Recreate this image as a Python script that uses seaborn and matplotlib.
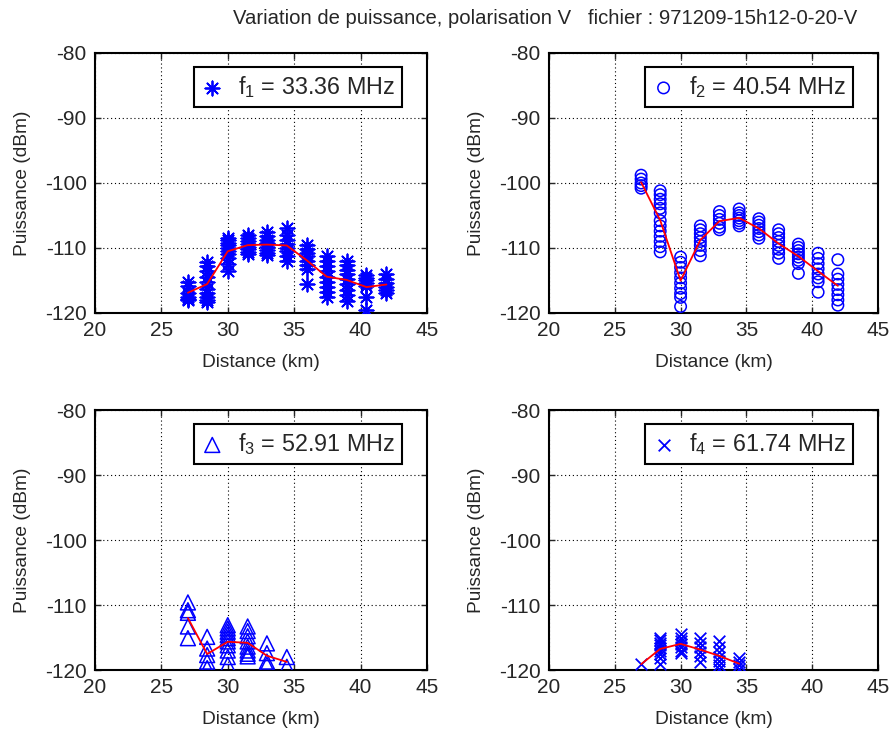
import pandas as pd
import matplotlib.pyplot as plt
import seaborn as sns

sns.set_style("white")
plt.rcParams['font.family'] = ['Liberation Sans', 'DejaVu Sans']
plt.rcParams['mathtext.fontset'] = 'custom'
plt.rcParams['mathtext.rm'] = 'Liberation Sans'
plt.rcParams['axes.unicode_minus'] = False

# distances of the measurement points (km)
dist = [27.0, 28.45, 30.0, 31.5, 32.95, 34.45, 35.95, 37.45, 38.95, 40.45, 41.95]

# received power (dBm), one list per distance
p1 = [[-115.2, -115.8, -117.0, -117.5, -117.8, -118.0],
      [-112.2, -112.8, -113.5, -114.5, -115.3, -116.3, -117.0, -117.5, -118.0, -118.3],
      [-108.4, -108.8, -109.2, -109.6, -110.0, -110.4, -111.0, -111.6, -112.5, -113.6],
      [-108.0, -108.5, -109.0, -109.4, -109.8, -110.2, -110.6, -111.0],
      [-107.5, -108.2, -108.8, -109.3, -109.8, -110.3, -110.8, -111.1],
      [-107.0, -108.0, -108.8, -109.4, -110.0, -110.5, -111.2, -112.0],
      [-109.5, -110.2, -110.8, -111.3, -112.0, -112.6, -113.3, -115.5],
      [-111.3, -112.0, -112.8, -113.6, -114.4, -115.2, -116.0, -116.8, -117.6],
      [-112.0, -112.6, -113.4, -114.0, -114.8, -115.6, -116.4, -117.2, -118.2],
      [-114.2, -114.6, -115.0, -115.4, -115.8, -117.5, -119.6],
      [-114.0, -114.8, -115.4, -116.0, -116.5, -117.0]]

p2 = [[-98.8, -99.4, -100.0, -100.4, -100.8],
      [-101.2, -101.8, -102.5, -103.2, -103.9, -104.6, -105.8, -106.6, -107.4,
       -108.2, -109.0, -109.8, -110.6],
      [-111.4, -112.2, -113.0, -113.8, -114.6, -115.4, -116.2, -117.0, -117.6, -119.0],
      [-106.6, -107.2, -107.8, -108.4, -109.0, -109.6, -110.4, -111.2],
      [-104.4, -105.0, -105.6, -106.2, -106.8, -107.2],
      [-104.0, -104.6, -105.0, -105.4, -105.8, -106.2, -106.6],
      [-105.5, -106.0, -106.5, -107.0, -107.5, -108.0, -108.5],
      [-107.2, -107.8, -108.4, -109.0, -109.6, -110.2, -110.8, -111.6],
      [-109.4, -109.9, -110.4, -110.9, -111.4, -111.9, -112.4, -113.9],
      [-110.8, -111.6, -112.4, -113.2, -114.0, -114.6, -115.2, -116.8],
      [-111.8, -114.0, -114.8, -115.6, -116.4, -117.2, -118.0, -118.8]]

p3 = [[-109.6, -110.8, -111.2, -113.3, -115.1],
      [-114.9, -116.7, -117.7, -118.7, -119.7],
      [-113.1, -113.6, -114.1, -114.6, -115.1, -115.6, -116.2, -117.0, -118.0, -119.2],
      [-113.3, -114.0, -114.8, -115.6, -116.4, -117.0, -117.5, -117.9],
      [-115.9, -117.4, -118.7, -119.2],
      [-118.0, -119.5]]

p4 = [[-119.1],
      [-115.0, -115.4, -115.8, -116.2, -116.6, -117.0, -117.6, -118.2, -119.0],
      [-114.4, -115.0, -115.5, -116.0, -116.5, -117.0, -117.4],
      [-115.1, -115.8, -116.5, -117.2, -117.9, -118.7],
      [-115.6, -116.4, -117.2, -118.0, -118.6, -119.2, -119.8],
      [-118.2, -118.8, -119.3, -119.8]]

freqs = ['33.36', '40.54', '52.91', '61.74']
markers = [(8, 2, 0), 'o', '^', 'x']
msizes = [105, 68, 115, 70]
mwidths = [1.3, 1.1, 1.1, 1.3]
hollow = [False, True, True, False]

positions = [[0.1061, 0.5730, 0.3709, 0.3547],
             [0.6134, 0.5730, 0.3676, 0.3547],
             [0.1061, 0.0859, 0.3709, 0.3547],
             [0.6134, 0.0859, 0.3676, 0.3547]]


def to_frame(vals):
    rows = [(d, v) for d, col in zip(dist, vals) for v in col]
    return pd.DataFrame(rows, columns=['Distance', 'Puissance'])


fig = plt.figure(figsize=(8.95, 7.33), dpi=100)

for i, vals in enumerate([p1, p2, p3, p4]):
    ax = fig.add_axes(positions[i])
    df = to_frame(vals)
    label = 'f$_{\\mathregular{%d}}$ = %s MHz' % (i + 1, freqs[i])
    if hollow[i]:
        sns.scatterplot(data=df, x='Distance', y='Puissance', ax=ax, marker=markers[i],
                        s=msizes[i], color='blue', facecolor='none', edgecolor='blue',
                        linewidth=mwidths[i], label=label, zorder=3)
    else:
        sns.scatterplot(data=df, x='Distance', y='Puissance', ax=ax, marker=markers[i],
                        s=msizes[i], color='blue', linewidth=mwidths[i], label=label,
                        zorder=3)
    sns.lineplot(data=df, x='Distance', y='Puissance', ax=ax, estimator='mean',
                 errorbar=None, color='red', linewidth=1.3, zorder=4)

    ax.set_xlim(20, 45)
    ax.set_ylim(-120, -80)
    ax.set_xticks([20, 25, 30, 35, 40, 45])
    ax.set_yticks([-120, -110, -100, -90, -80])
    ax.tick_params(direction='in', length=4, width=1, labelsize=15, pad=6,
                   top=True, right=True, bottom=True, left=True)
    ax.grid(True, color='black', linestyle=(0, (1, 2.5)), linewidth=0.8)
    for sp in ax.spines.values():
        sp.set_color('black')
        sp.set_linewidth(1.5)
    ax.set_xlabel('Distance (km)', fontsize=13.8, labelpad=10)
    ax.set_ylabel('Puissance (dBm)', fontsize=13.8, labelpad=10)

    leg = ax.legend(loc='upper right', bbox_to_anchor=(0.925, 0.946), borderaxespad=0,
                    fontsize=16.8, scatterpoints=1, handletextpad=0.6, handlelength=1.0,
                    fancybox=False, framealpha=1, edgecolor='black', borderpad=0.3)
    leg.get_frame().set_linewidth(1.5)

fig.text(545 / 895, 1 - 18 / 733,
         'Variation de puissance, polarisation V   fichier : 971209-15h12-0-20-V',
         ha='center', va='center', fontsize=14.6)

plt.savefig('out.png', dpi=100)
